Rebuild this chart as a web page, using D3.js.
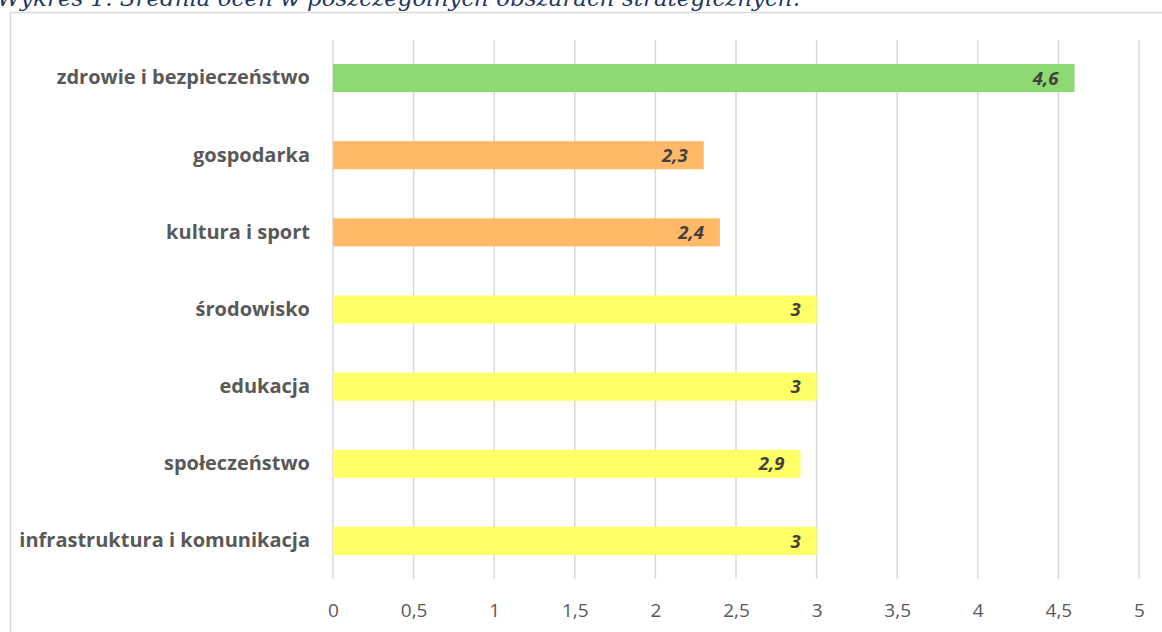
<!DOCTYPE html>
<html><head><meta charset="utf-8">
<script src="https://cdn.jsdelivr.net/npm/d3@7"></script>
<style>
html,body{margin:0;padding:0;background:#fff;overflow:hidden;}
svg{display:block;}
</style></head>
<body>
<svg id="chart" width="1162" height="632"></svg>
<script>
const title = "Wykres 1. Średnia ocen w poszczególnych obszarach strategicznych.";
const categories = ["zdrowie i bezpieczeństwo","gospodarka","kultura i sport","środowisko","edukacja","społeczeństwo","infrastruktura i komunikacja"];
const values = [4.6, 2.3, 2.4, 3, 3, 2.9, 3];
const barColors = ["#8ED973","#FFB967","#FFB967","#FFFF66","#FFFF66","#FFFF66","#FFFF66"];
const tickValues = [0,0.5,1,1.5,2,2.5,3,3.5,4,4.5,5];

const svg = d3.select("#chart");
const fmt = v => String(v).replace(".", ",");

// frame
svg.append("rect").attr("x",10.5).attr("y",12.5).attr("width",1170).attr("height",640)
  .attr("fill","#fff").attr("stroke","#D9D9D9").attr("stroke-width",1.5);

// title (partly cut at top, as in the source)
svg.append("text").attr("x",-3).attr("y",6)
  .attr("font-family","'DejaVu Serif', 'Liberation Serif', serif")
  .attr("font-style","italic").attr("font-size",23).attr("fill","#1F3864")
  .attr("textLength",803).attr("lengthAdjust","spacingAndGlyphs")
  .text(title);

const x = d3.scaleLinear().domain([0,5]).range([333,1139]);
const y = d3.scaleBand().domain(categories).range([39.5,579.5]).paddingInner(0.636).paddingOuter(0.318);

// gridlines
svg.append("g").selectAll("line").data(tickValues).join("line")
  .attr("x1",d=>x(d)).attr("x2",d=>x(d)).attr("y1",40).attr("y2",579)
  .attr("stroke","#D9D9D9").attr("stroke-width",1.5);

// x axis labels
const xAxis = d3.axisBottom(x).tickValues(tickValues).tickSize(0).tickPadding(0).tickFormat(fmt);
const gx = svg.append("g").attr("transform","translate(0,610)").call(xAxis);
gx.select(".domain").remove();
gx.selectAll("text").attr("font-family","'Open Sans', 'Liberation Sans', sans-serif")
  .attr("font-size",19).attr("fill","#595959").attr("dy","0.36em");

// bars
svg.append("g").selectAll("rect").data(categories).join("rect")
  .attr("x",x(0)).attr("y",d=>y(d)).attr("width",(d,i)=>x(values[i])-x(0))
  .attr("height",y.bandwidth()).attr("fill",(d,i)=>barColors[i]);

// y axis (category labels)
const yAxis = d3.axisLeft(y).tickSize(0).tickPadding(23);
const gy = svg.append("g").attr("transform",`translate(${x(0)},0)`).call(yAxis);
gy.select(".domain").remove();
gy.selectAll("text").attr("font-family","'Open Sans', 'Liberation Sans', sans-serif")
  .attr("font-weight","bold").attr("font-size",20).attr("fill","#595959");

// value labels
svg.append("g").selectAll("text").data(categories).join("text")
  .attr("x",(d,i)=>x(values[i])-16).attr("y",d=>y(d)+y.bandwidth()/2).attr("dy","0.36em")
  .attr("text-anchor","end").attr("font-family","'Open Sans', 'Liberation Sans', sans-serif")
  .attr("font-weight","bold").attr("font-style","italic").attr("font-size",18.5)
  .attr("fill","#404040").text((d,i)=>fmt(values[i]));
</script>
</body></html>
